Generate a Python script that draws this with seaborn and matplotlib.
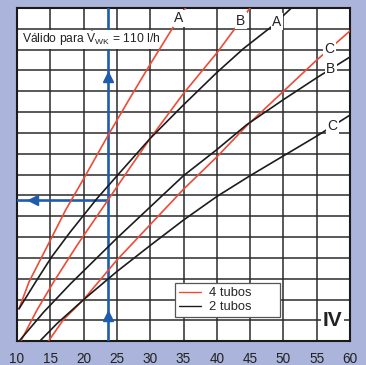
import numpy as np
import pandas as pd
import matplotlib
matplotlib.use('Agg')
import matplotlib.pyplot as plt
from matplotlib.lines import Line2D
import seaborn as sns

# datos (x = temperatura, y = sin escala, 16 divisiones)
x_4A = [10.3, 11.8, 15.0, 17.3, 20.0, 23.7, 27.0, 30.0, 33.0, 35.3]
y_4A = [1.56, 2.85, 4.85, 6.3, 7.8, 9.9, 11.7, 13.3, 14.85, 16.0]
x_4B = [10.55, 13.0, 15.5, 19.0, 23.7, 27.0, 30.0, 35.0, 40.15, 45.0]
y_4B = [0.0, 1.5, 2.85, 4.6, 6.8, 8.35, 9.74, 11.9, 13.9, 16.0]
x_4C = [14.7, 17.0, 20.0, 25.0, 30.0, 35.0, 40.0, 44.5, 50.0, 55.0, 60.0]
y_4C = [0.0, 1.05, 2.0, 3.9, 5.6, 7.3, 8.85, 10.35, 12.0, 13.5, 14.9]
x_2A = [10.3, 12.8, 15.2, 18.0, 22.0, 26.0, 30.0, 35.0, 40.0, 44.0, 48.2, 51.2]
y_2A = [1.56, 2.85, 4.05, 5.25, 6.85, 8.3, 9.74, 11.35, 12.9, 14.05, 15.1, 16.0]
x_2B = [10.3, 14.0, 18.0, 25.0, 30.0, 35.0, 40.0, 44.5, 50.0, 55.0, 60.0]
y_2B = [0.0, 1.4, 2.75, 4.95, 6.45, 7.95, 9.2, 10.4, 11.6, 12.65, 13.65]
x_2C = [13.4, 16.0, 20.0, 25.0, 30.0, 35.0, 40.0, 45.0, 50.0, 55.0, 60.0]
y_2C = [0.0, 0.85, 2.0, 3.35, 4.6, 5.82, 6.95, 7.95, 8.9, 9.85, 10.86]

curvas = [
    ('A', '4 tubos', x_4A, y_4A, 34.3),
    ('B', '4 tubos', x_4B, y_4B, 43.6),
    ('C', '4 tubos', x_4C, y_4C, 56.9),
    ('A', '2 tubos', x_2A, y_2A, 49.0),
    ('B', '2 tubos', x_2B, y_2B, 57.1),
    ('C', '2 tubos', x_2C, y_2C, 57.4),
]

lectura_x = 23.7
lectura_y = 6.8
x_ticks = list(range(10, 61, 5))

rojo = '#ee4b36'
negro = '#1c1c1c'
azul = '#1f5cab'
fondo = '#abb4da'

sns.set_theme(style='white')
plt.rcParams['font.family'] = ['Liberation Sans', 'DejaVu Sans']
plt.rcParams['mathtext.fontset'] = 'custom'
plt.rcParams['mathtext.rm'] = 'Liberation Sans'
plt.rcParams['mathtext.it'] = 'Liberation Sans:italic'

filas = []
for letra, tubos, xs, ys, _ in curvas:
    filas.append(pd.DataFrame({'x': xs, 'y': ys, 'tubos': tubos, 'curva': tubos + letra}))
df = pd.concat(filas, ignore_index=True)

fig = plt.figure(figsize=(3.66, 3.65), dpi=100)
fig.patch.set_facecolor(fondo)
ax = fig.add_axes([17 / 366, (365 - 341.3) / 365, 333 / 366, 333.3 / 365])
ax.set_facecolor('white')

sns.lineplot(data=df, x='x', y='y', hue='tubos', units='curva', estimator=None, sort=False,
             palette={'4 tubos': rojo, '2 tubos': negro}, linewidth=1.2, legend=False,
             ax=ax, zorder=4)

# flechas de lectura
ax.plot([lectura_x, lectura_x], [0, 16], color=azul, lw=1.9, zorder=3)
ax.plot([10, lectura_x], [lectura_y, lectura_y], color=azul, lw=1.9, zorder=3)
ax.plot([lectura_x, lectura_x], [1.2, 12.7], ls='none', marker='^', ms=6.5, color=azul, zorder=3)
ax.plot([12.4], [lectura_y], ls='none', marker='<', ms=6.5, color=azul, zorder=3)

# recuadro del texto
ax.axhspan(14.04, 14.96, xmin=0.014, xmax=0.44, facecolor='white', edgecolor='none', zorder=3.5)
ax.text(10.8, 14.5, 'Válido para $\\dot{\\mathrm{V}}_{\\mathrm{WK}}$ = 110 l/h', fontsize=8.7,
        ha='left', va='center', color='#222222', zorder=5)

for letra, tubos, xs, ys, xl in curvas:
    yl = np.interp(xl, xs, ys)
    ax.text(xl, yl, letra, fontsize=10, ha='center', va='center', color='#222222', zorder=5,
            bbox=dict(facecolor='white', edgecolor='none', pad=1.0))

ax.text(57.4, 1.0, 'IV', fontsize=15, fontweight='bold', ha='center', va='center',
        color='#222222', zorder=5, bbox=dict(facecolor='white', edgecolor='none', pad=1.0))

ax.set_xlim(10, 60)
ax.set_ylim(0, 16)
ax.set_xticks(x_ticks)
ax.set_xticklabels([str(t) for t in x_ticks])
ax.set_yticks(range(0, 17))
ax.set_yticklabels([])
ax.set_xlabel('')
ax.set_ylabel('')
ax.grid(True, color='#2b2b2b', lw=1.1)
ax.set_axisbelow(True)
ax.tick_params(axis='both', length=0, labelsize=9.8, pad=8, labelcolor='#222222')
for s in ax.spines.values():
    s.set_color('#1a1a1a')
    s.set_linewidth(1.5)

handles = [Line2D([], [], color=rojo, lw=1.0), Line2D([], [], color=negro, lw=1.0)]
leg = ax.legend(handles, ['4 tubos', '2 tubos'], loc='lower left',
                bbox_to_anchor=(0.4745, 0.073, 0.3155, 0.111), mode='expand', borderaxespad=0,
                fontsize=9.3, frameon=True, fancybox=False, framealpha=1, edgecolor='#555555',
                handlelength=1.7, handletextpad=0.6, labelspacing=0.15, borderpad=0.3)
leg.set_zorder(6)
leg.get_frame().set_linewidth(0.9)

fig.savefig('out.png', dpi=100, facecolor=fondo)
